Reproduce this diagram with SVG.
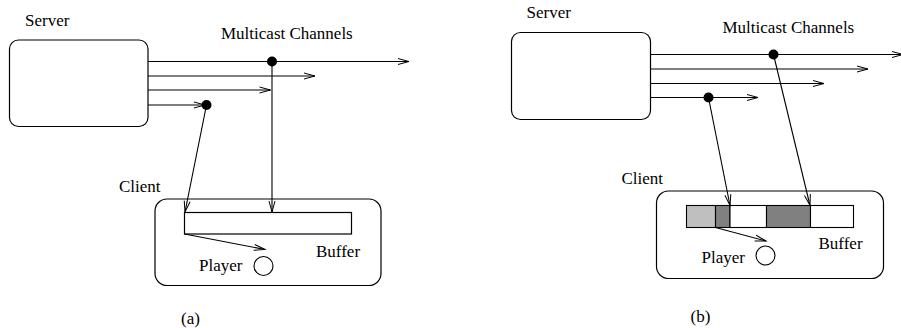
<svg xmlns="http://www.w3.org/2000/svg" width="901" height="328" viewBox="0 0 901 328">
<style>
.box{fill:#fff;stroke:#000;stroke-width:1.2}
.ln{fill:none;stroke:#000;stroke-width:1.1}
.arr{marker-end:url(#ah)}
.dot{fill:#000}
text{font-family:"Liberation Serif","Times New Roman",serif;font-size:17px;fill:#000}
</style>
<defs>
<marker id="ah" markerUnits="userSpaceOnUse" markerWidth="14" markerHeight="10" refX="11" refY="4" orient="auto" overflow="visible">
<path d="M0,1 L11,4 L0,7" fill="none" stroke="#000" stroke-width="1"/>
</marker>
</defs>
<!-- Panel (a) -->
<g id="a-server">
<rect class="box" x="9.5" y="40" width="138.5" height="86.5" rx="9"/>
<text x="25" y="26">Server</text>
</g>
<text id="a-mc" x="221" y="39">Multicast Channels</text>
<g id="a-client">
<rect class="box" x="155" y="199" width="226" height="86.5" rx="12"/>
<text x="119" y="191.5">Client</text>
<rect class="box" x="184.5" y="212.5" width="167" height="21.5" stroke-width="1.1"/>
<text x="316" y="256.5">Buffer</text>
<circle cx="263.5" cy="266" r="9.5" fill="#fff" stroke="#000" stroke-width="1.1"/>
<text x="199" y="271">Player</text>
</g>
<text id="a-label" x="181" y="324">(a)</text>
<g id="a-connectors">
<line class="ln arr" x1="148" y1="61.5" x2="409" y2="61.5"/>
<line class="ln arr" x1="148" y1="76" x2="315" y2="76"/>
<line class="ln arr" x1="148" y1="90" x2="270.5" y2="90"/>
<line class="ln arr" x1="148" y1="105" x2="205" y2="105"/>
<line class="ln arr" x1="272" y1="62" x2="272" y2="212"/>
<line class="ln arr" x1="206.5" y1="105" x2="185" y2="212"/>
<line class="ln arr" x1="184.5" y1="234" x2="265" y2="249.5"/>
<circle class="dot" cx="272" cy="61.5" r="5"/>
<circle class="dot" cx="206.5" cy="105" r="5"/>
</g>
<!-- Panel (b) -->
<g id="b-server">
<rect class="box" x="511.5" y="32.5" width="139" height="87" rx="9"/>
<text x="526.5" y="17.5">Server</text>
</g>
<text id="b-mc" x="722.5" y="33">Multicast Channels</text>
<g id="b-client">
<rect class="box" x="656.5" y="191" width="227" height="87.5" rx="12"/>
<text x="621.5" y="183.5">Client</text>
<rect x="686.5" y="205.5" width="29" height="22" fill="#bfbfbf" stroke="#000" stroke-width="1.1"/>
<rect x="715.5" y="205.5" width="14.5" height="22" fill="#808080" stroke="#000" stroke-width="1.1"/>
<rect x="730" y="205.5" width="36.5" height="22" fill="#fff" stroke="#000" stroke-width="1.1"/>
<rect x="766.5" y="205.5" width="44" height="22" fill="#808080" stroke="#000" stroke-width="1.1"/>
<rect x="810.5" y="205.5" width="43" height="22" fill="#fff" stroke="#000" stroke-width="1.1"/>
<text x="818.5" y="248.5">Buffer</text>
<circle cx="765.5" cy="255.5" r="9.5" fill="#fff" stroke="#000" stroke-width="1.1"/>
<text x="701.5" y="262.5">Player</text>
</g>
<text id="b-label" x="690.5" y="322">(b)</text>
<g id="b-connectors">
<line class="ln arr" x1="650.5" y1="54.5" x2="903" y2="54.5"/>
<line class="ln arr" x1="650.5" y1="69" x2="868" y2="69"/>
<line class="ln arr" x1="650.5" y1="83.5" x2="824" y2="83.5"/>
<line class="ln arr" x1="650.5" y1="97.5" x2="758" y2="97.5"/>
<line class="ln arr" x1="708.5" y1="97.5" x2="730" y2="205.5"/>
<line class="ln arr" x1="773.5" y1="54.5" x2="810" y2="205.5"/>
<line class="ln arr" x1="715.5" y1="227.5" x2="766" y2="241"/>
<circle class="dot" cx="773.5" cy="54.5" r="5"/>
<circle class="dot" cx="708.5" cy="97.5" r="5"/>
</g>
</svg>
